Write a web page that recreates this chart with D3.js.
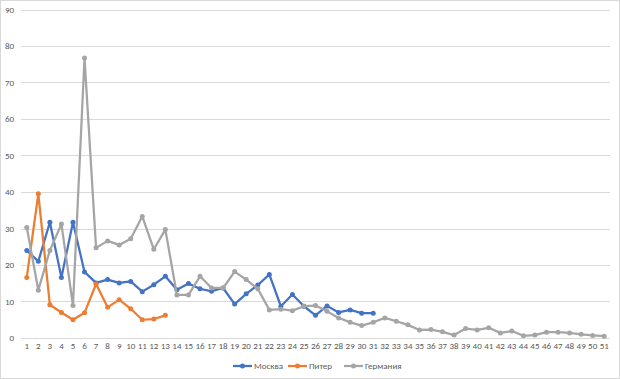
<!DOCTYPE html>
<html>
<head>
<meta charset="utf-8">
<script src="https://cdn.jsdelivr.net/npm/d3@7"></script>
<style>
  body { margin: 0; background: #fff; }
  .chart text { font-family: Carlito, Roboto, "Liberation Sans", sans-serif; fill: #595959; }
</style>
</head>
<body>
<div class="chart"></div>
<script>
const w = 620;
const h = 379;

const categories = d3.range(1, 52).map(String);
const yTicks = [0, 10, 20, 30, 40, 50, 60, 70, 80, 90];

const moskva = [24.0, 21.0, 31.7, 16.6, 31.7, 18.1, 15.1, 16.0, 15.1, 15.5,
  12.7, 14.6, 16.9, 13.2, 14.9, 13.5, 12.8, 13.7, 9.3, 12.1,
  14.5, 17.4, 8.7, 11.9, 8.7, 6.2, 8.8, 7.0, 7.7, 6.8, 6.8];
const piter = [16.6, 39.5, 9.1, 7.0, 5.0, 6.9, 14.8, 8.4, 10.5, 8.0, 5.0, 5.2, 6.2];
const germany = [30.3, 13.1, 24.0, 31.2, 8.9, 76.7, 24.7, 26.6, 25.5, 27.2,
  33.3, 24.3, 29.7, 11.8, 11.8, 16.9, 13.7, 13.7, 18.2, 16.0,
  13.5, 7.7, 7.9, 7.5, 8.7, 8.9, 7.3, 5.5, 4.3, 3.4,
  4.3, 5.5, 4.6, 3.6, 2.2, 2.3, 1.7, 0.8, 2.6, 2.2,
  2.8, 1.4, 1.9, 0.6, 0.8, 1.6, 1.6, 1.4, 1.0, 0.7, 0.5];

const seriesNames = ['Москва', 'Питер', 'Германия'];
const seriesColors = ['#4472C4', '#ED7D31', '#A5A5A5'];
const seriesValues = [moskva, piter, germany];

const plotLeft = 21, plotRight = 610, plotTop = 9.5, plotBottom = 338;

const svg = d3.select('.chart')
  .append('svg')
  .attr('width', w)
  .attr('height', h);

svg.append('rect')
  .attr('x', 0.5).attr('y', 0.5)
  .attr('width', w - 1).attr('height', h - 1)
  .attr('fill', '#fff')
  .attr('stroke', '#D9D9D9');

const xScale = d3.scaleBand()
  .domain(categories)
  .range([plotLeft, plotRight]);

const yScale = d3.scaleLinear()
  .domain([0, 90])
  .range([plotBottom, plotTop]);

// gridlines
svg.append('g')
  .selectAll('line')
  .data(yTicks)
  .enter()
  .append('line')
  .attr('x1', plotLeft)
  .attr('x2', plotRight)
  .attr('y1', (d) => Math.round(yScale(d)) + 0.5)
  .attr('y2', (d) => Math.round(yScale(d)) + 0.5)
  .attr('stroke', '#D9D9D9')
  .attr('stroke-width', 1);

// y axis
const yAxis = d3.axisLeft(yScale).tickValues(yTicks).tickSize(0).tickPadding(7);
svg.append('g')
  .attr('transform', `translate(${plotLeft},0)`)
  .call(yAxis)
  .call((g) => g.select('.domain').remove())
  .selectAll('text')
  .attr('font-size', 9);

// x axis
const xAxis = d3.axisBottom(xScale).tickSize(0).tickPadding(5);
svg.append('g')
  .attr('transform', `translate(0,${plotBottom})`)
  .call(xAxis)
  .call((g) => g.select('.domain').remove())
  .selectAll('text')
  .attr('font-size', 9);

const cx = (d, i) => xScale(categories[i]) + xScale.bandwidth() / 2;

const line = d3.line()
  .x(cx)
  .y((d) => yScale(d));

// series
seriesValues.forEach((vals, k) => {
  const g = svg.append('g');
  g.append('path')
    .datum(vals)
    .attr('d', line)
    .attr('fill', 'none')
    .attr('stroke', seriesColors[k])
    .attr('stroke-width', 2.25)
    .attr('stroke-linejoin', 'round');
  g.selectAll('circle')
    .data(vals)
    .enter()
    .append('circle')
    .attr('cx', cx)
    .attr('cy', (d) => yScale(d))
    .attr('r', 2.5)
    .attr('fill', seriesColors[k]);
});

// legend
const legendX = [233, 288, 344];
const legend = svg.append('g');
seriesNames.forEach((name, k) => {
  const lg = legend.append('g').attr('transform', `translate(${legendX[k]},366)`);
  lg.append('line')
    .attr('x1', 0).attr('x2', 19)
    .attr('stroke', seriesColors[k])
    .attr('stroke-width', 2.25);
  lg.append('circle')
    .attr('cx', 9.5).attr('r', 2.5)
    .attr('fill', seriesColors[k]);
  lg.append('text')
    .attr('x', 21)
    .attr('dy', '0.35em')
    .attr('font-size', 9)
    .text(name);
});
</script>
</body>
</html>
